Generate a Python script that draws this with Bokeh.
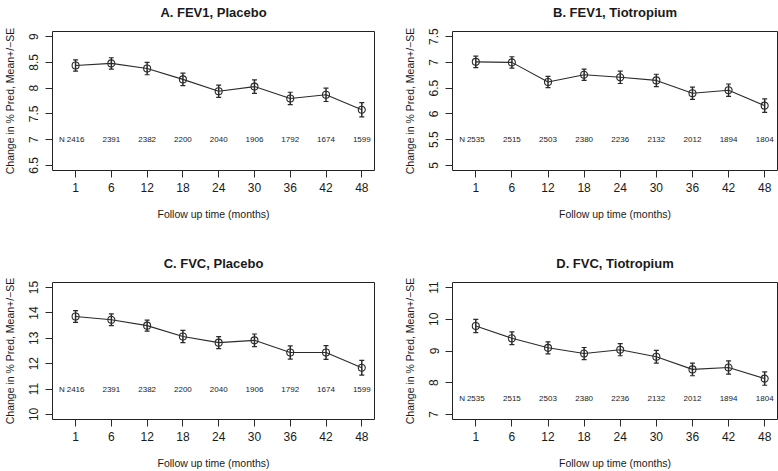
from bokeh.plotting import figure
from bokeh.models import (ColumnDataSource, Range1d, FixedTicker, Whisker, TeeHead,
                          CustomJSTickFormatter, LinearAxis)
from bokeh.layouts import row, column
from bokeh.embed import file_html
from bokeh.resources import INLINE
from bokeh.core.properties import value

# ---------------- data ----------------
months = ["1", "6", "12", "18", "24", "30", "36", "42", "48"]

n_placebo = [2416, 2391, 2382, 2200, 2040, 1906, 1792, 1674, 1599]
n_tiotropium = [2535, 2515, 2503, 2380, 2236, 2132, 2012, 1894, 1804]

fev1_placebo_mean = [8.44, 8.48, 8.38, 8.17, 7.94, 8.03, 7.80, 7.87, 7.58]
fev1_placebo_se = [0.11, 0.11, 0.12, 0.12, 0.12, 0.13, 0.12, 0.13, 0.14]

fev1_tiotropium_mean = [7.01, 7.00, 6.62, 6.76, 6.71, 6.65, 6.40, 6.46, 6.16]
fev1_tiotropium_se = [0.11, 0.11, 0.11, 0.11, 0.12, 0.12, 0.12, 0.12, 0.13]

fvc_placebo_mean = [13.86, 13.73, 13.50, 13.07, 12.83, 12.92, 12.44, 12.44, 11.84]
fvc_placebo_se = [0.23, 0.23, 0.22, 0.24, 0.24, 0.25, 0.26, 0.27, 0.29]

fvc_tiotropium_mean = [9.79, 9.40, 9.10, 8.92, 9.04, 8.82, 8.42, 8.48, 8.13]
fvc_tiotropium_se = [0.21, 0.20, 0.19, 0.19, 0.19, 0.20, 0.20, 0.21, 0.21]

titles = ["A. FEV1, Placebo", "B. FEV1, Tiotropium", "C. FVC, Placebo", "D. FVC, Tiotropium"]
y_limits = [(6.5, 9.0), (5.0, 7.5), (10.0, 15.0), (7.0, 11.0)]
y_tick_values = [
    [6.5, 7.0, 7.5, 8.0, 8.5, 9.0],
    [5.0, 5.5, 6.0, 6.5, 7.0, 7.5],
    [10, 11, 12, 13, 14, 15],
    [7, 8, 9, 10, 11],
]
n_row_level = [7.0, 5.5, 11.0, 7.5]

x_label = "Follow up time (months)"
y_label = "Change in % Pred, Mean+/\u2212SE"

FONT = "Liberation Sans"
TXT = "#1a1a1a"
LINE = "#2b2b2b"
X_LO, X_HI = 0.355, 9.355


def make_panel(title, means, ses, ns, ylim, yticks, nlevel, left, right, top, bottom, width, height):
    pos = list(range(1, len(months) + 1))
    lo, hi = ylim
    pad = (hi - lo) * 0.04
    p = figure(width=width, height=height, output_backend="svg", toolbar_location=None,
               x_range=Range1d(X_LO, X_HI), y_range=Range1d(lo - pad, hi + pad),
               min_border_left=left, min_border_right=right,
               min_border_top=top, min_border_bottom=bottom)
    p.background_fill_color = "white"
    p.border_fill_color = "white"
    p.outline_line_color = "#222222"
    p.outline_line_width = 1
    p.grid.visible = False

    # panel heading, centred above the plot box (an untick'd axis on top)
    head = LinearAxis(ticker=FixedTicker(ticks=[]), axis_label=title)
    head.axis_line_color = None
    head.major_tick_out = 0
    head.major_tick_in = 0
    head.minor_tick_out = 0
    head.minor_tick_in = 0
    head.major_label_standoff = 0
    head.axis_label_standoff = 12
    head.axis_label_text_font = FONT
    head.axis_label_text_font_size = "13px"
    head.axis_label_text_font_style = "bold"
    head.axis_label_text_color = TXT
    p.add_layout(head, "above")

    # x axis
    xa = p.below[0]
    xa.ticker = FixedTicker(ticks=pos)
    xa.major_label_overrides = {i: m for i, m in zip(pos, months)}
    xa.axis_line_color = None
    xa.major_tick_out = 7
    xa.major_tick_in = 0
    xa.minor_tick_out = 0
    xa.minor_tick_in = 0
    xa.major_tick_line_color = LINE
    xa.major_label_standoff = 5
    xa.major_label_text_font = FONT
    xa.major_label_text_font_size = "12px"
    xa.major_label_text_color = TXT
    xa.axis_label = x_label
    xa.axis_label_text_font = FONT
    xa.axis_label_text_font_size = "10.5px"
    xa.axis_label_text_font_style = "normal"
    xa.axis_label_text_color = TXT
    xa.axis_label_standoff = 13

    # y axis
    ya = p.left[0]
    ya.ticker = FixedTicker(ticks=yticks)
    ya.formatter = CustomJSTickFormatter(code="return tick.toString();")
    ya.axis_line_color = None
    ya.major_tick_out = 7
    ya.major_tick_in = 0
    ya.minor_tick_out = 0
    ya.minor_tick_in = 0
    ya.major_tick_line_color = LINE
    ya.major_label_orientation = "vertical"
    ya.major_label_standoff = 7
    ya.major_label_text_font = FONT
    ya.major_label_text_font_size = "12px"
    ya.major_label_text_color = TXT
    ya.axis_label = y_label
    ya.axis_label_text_font = FONT
    ya.axis_label_text_font_size = "10.5px"
    ya.axis_label_text_font_style = "normal"
    ya.axis_label_text_color = TXT
    ya.axis_label_standoff = 11

    src = ColumnDataSource(dict(
        x=pos, y=means,
        lower=[m - s for m, s in zip(means, ses)],
        upper=[m + s for m, s in zip(means, ses)],
    ))
    p.line("x", "y", source=src, line_color=LINE, line_width=1.1)
    w = Whisker(base="x", lower="lower", upper="upper", source=src,
                line_color=LINE, line_width=1.5,
                lower_head=TeeHead(size=5, line_color=LINE, line_width=1.2),
                upper_head=TeeHead(size=5, line_color=LINE, line_width=1.2))
    p.add_layout(w)
    p.scatter("x", "y", source=src, marker="circle", size=7, fill_color=None,
              line_color=LINE, line_width=1.1)

    # N row
    nsrc = ColumnDataSource(dict(x=pos, y=[nlevel] * len(pos), t=[str(n) for n in ns]))
    p.text("x", "y", text="t", source=nsrc, text_font=value(FONT), text_font_size="8px",
           text_color=TXT, text_align="center", text_baseline="middle")
    p.text(x=[0.62], y=[nlevel], text=["N"], text_font=value(FONT), text_font_size="8px",
           text_color=TXT, text_align="center", text_baseline="middle")
    return p


pA = make_panel(titles[0], fev1_placebo_mean, fev1_placebo_se, n_placebo, y_limits[0],
                y_tick_values[0], n_row_level[0], 49, 15, 31, 81, 389, 251)
pB = make_panel(titles[1], fev1_tiotropium_mean, fev1_tiotropium_se, n_tiotropium, y_limits[1],
                y_tick_values[1], n_row_level[1], 63, 1, 31, 81, 389, 251)
pC = make_panel(titles[2], fvc_placebo_mean, fvc_placebo_se, n_placebo, y_limits[2],
                y_tick_values[2], n_row_level[2], 49, 15, 31, 49, 389, 220)
pD = make_panel(titles[3], fvc_tiotropium_mean, fvc_tiotropium_se, n_tiotropium, y_limits[3],
                y_tick_values[3], n_row_level[3], 63, 1, 31, 49, 389, 220)

layout = column(row(pA, pB), row(pC, pD))

with open("out.html", "w") as f:
    f.write(file_html(layout, INLINE))
